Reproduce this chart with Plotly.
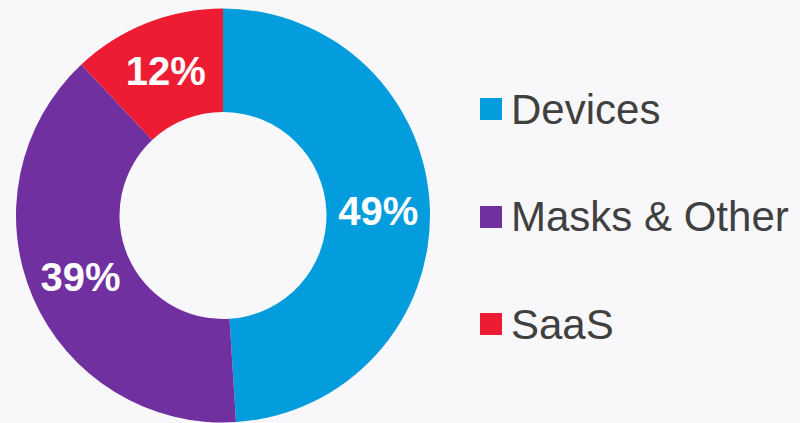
import plotly.graph_objects as go

categories = ["Devices", "Masks & Other", "SaaS"]
shares = [49, 39, 12]
colors = ["#039CDD", "#7030A0", "#ED1C33"]

W, H = 800, 423
cx, cy, R = 223, 215.5, 207

fig = go.Figure()
fig.add_trace(go.Pie(
    labels=categories,
    values=shares,
    marker=dict(colors=colors, line=dict(width=0)),
    hole=0.5,
    sort=False,
    direction="clockwise",
    rotation=0,
    textinfo="percent",
    textposition="inside",
    insidetextorientation="horizontal",
    insidetextfont=dict(family="Liberation Sans, Arial, sans-serif", size=40, color="white", weight="bold"),
    showlegend=False,
    hoverinfo="label+percent",
    domain=dict(x=[(cx - R) / W, (cx + R) / W], y=[1 - (cy + R) / H, 1 - (cy - R) / H]),
))

# legend built from categories
legend_x = 480
legend_rows = [109, 217, 324]
sq = 22
for name, col, yc in zip(categories, colors, legend_rows):
    fig.add_shape(type="rect", xref="paper", yref="paper",
                  x0=legend_x / W, x1=(legend_x + sq) / W,
                  y0=1 - (yc + sq / 2) / H, y1=1 - (yc - sq / 2) / H,
                  fillcolor=col, line=dict(width=0))
    fig.add_annotation(x=(legend_x + sq + 7) / W, y=1 - yc / H, xref="paper", yref="paper",
                       text=name, showarrow=False, xanchor="left", yanchor="middle",
                       font=dict(family="Liberation Sans, Arial, sans-serif", size=42, color="#404040"))

fig.update_layout(
    width=W, height=H,
    margin=dict(l=0, r=0, t=0, b=0),
    paper_bgcolor="#F8F8FA",
    plot_bgcolor="#F8F8FA",
)
fig.write_html(
    "out.html",
    config={"displayModeBar": False},
    post_script="document.body.style.margin='0';document.body.style.background='#F8F8FA';",
)
